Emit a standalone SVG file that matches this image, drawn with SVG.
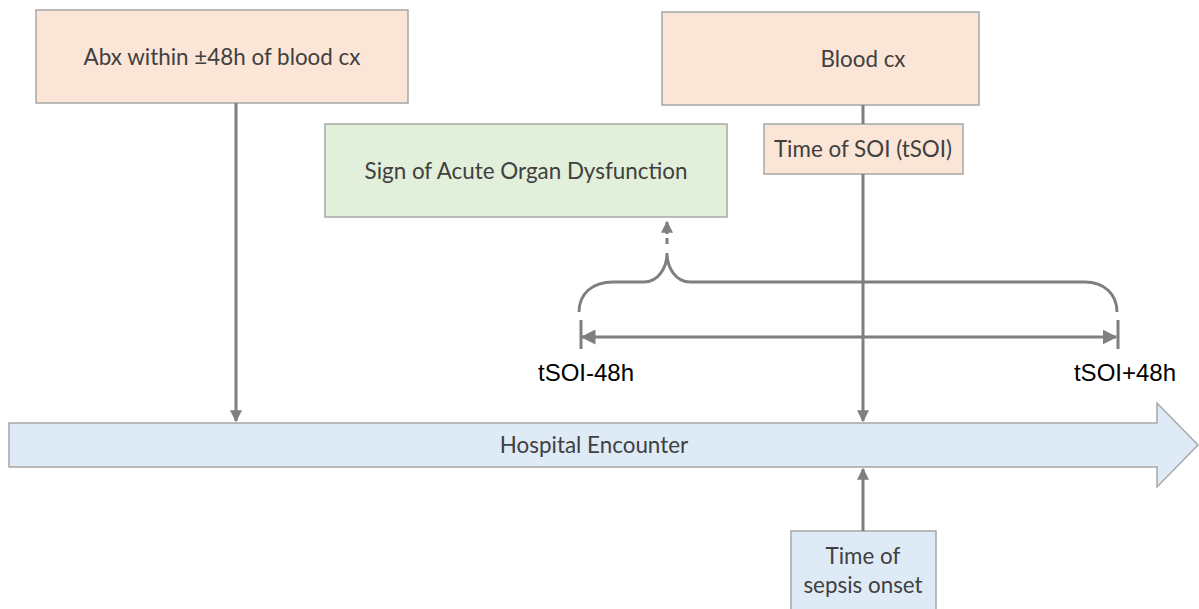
<svg xmlns="http://www.w3.org/2000/svg" width="1199" height="609" viewBox="0 0 1199 609">
  <style>
    .box { stroke: #a6a6a6; stroke-width: 1.5; }
    .peach { fill: #fbe5d6; }
    .green { fill: #e2efda; }
    .blue { fill: #deebf7; }
    .lbl { font-family: Lato, "Open Sans", sans-serif; font-size: 22.4px; fill: #404040; text-anchor: middle; }
    .tick { font-family: "Liberation Sans", Arial, sans-serif; font-size: 24px; fill: #000; text-anchor: middle; }
    .conn { stroke: #7f7f7f; stroke-width: 3; fill: none; }
  </style>
  <defs>
    <marker id="head" viewBox="0 0 10 10" refX="9" refY="5" markerWidth="4" markerHeight="4" orient="auto-start-reverse" markerUnits="strokeWidth">
      <path d="M0,0 L10,5 L0,10 z" fill="#7f7f7f"/>
    </marker>
    <marker id="small" viewBox="0 0 10 10" refX="9" refY="5" markerWidth="5" markerHeight="5" orient="auto-start-reverse" markerUnits="strokeWidth">
      <path d="M0,0 L10,5 L0,10 z" fill="#7f7f7f"/>
    </marker>
  </defs>

  <!-- timeline -->
  <g id="hospital">
    <path class="box blue" d="M9,423 H1157 V403 L1198,445 L1157,487 V467 H9 Z"/>
    <text class="lbl" x="594" y="453">Hospital Encounter</text>
  </g>

  <g id="abx">
    <rect class="box peach" x="36" y="10" width="372" height="93"/>
    <text class="lbl" x="222" y="65">Abx within ±48h of blood cx</text>
  </g>

  <g id="blood">
    <rect class="box peach" x="662" y="12" width="317" height="93"/>
    <text class="lbl" x="863" y="67">Blood cx</text>
  </g>

  <g id="tsoi">
    <rect class="box peach" x="764" y="124" width="199" height="50"/>
    <text class="lbl" x="863" y="157">Time of SOI (tSOI)</text>
  </g>

  <g id="organ">
    <rect class="box green" x="325" y="124" width="402" height="93"/>
    <text class="lbl" x="526" y="179">Sign of Acute Organ Dysfunction</text>
  </g>

  <g id="sepsis">
    <rect class="box blue" x="791" y="531" width="145" height="90"/>
    <text class="lbl" x="863" y="564">Time of</text>
    <text class="lbl" x="863" y="593">sepsis onset</text>
  </g>

  <g id="window-labels">
    <text class="tick" x="586" y="381">tSOI-48h</text>
    <text class="tick" x="1125" y="381">tSOI+48h</text>
  </g>

  <g id="connectors">
    <line class="conn" x1="236" y1="103" x2="236" y2="421" marker-end="url(#head)"/>
    <line class="conn" x1="863" y1="105" x2="863" y2="124"/>
    <line class="conn" x1="863" y1="174" x2="863" y2="421" marker-end="url(#head)"/>
    <line class="conn" x1="863" y1="531" x2="863" y2="469" marker-end="url(#head)"/>
    <!-- brace over the ±48h window -->
    <path class="conn" d="M579,312 C579,294 592,282 613,282 H644 C658,282 667,268 667,253 C667,268 676,282 690,282 H1085 C1104,282 1117,294 1117,312"/>
    <line class="conn" x1="667" y1="244" x2="667" y2="222" stroke-dasharray="6 4" marker-end="url(#head)"/>
    <!-- window span -->
    <line class="conn" x1="582" y1="337" x2="1116" y2="337" marker-start="url(#small)" marker-end="url(#small)"/>
    <line class="conn" x1="581" y1="320" x2="581" y2="349"/>
    <line class="conn" x1="1118" y1="320" x2="1118" y2="349"/>
  </g>
</svg>
